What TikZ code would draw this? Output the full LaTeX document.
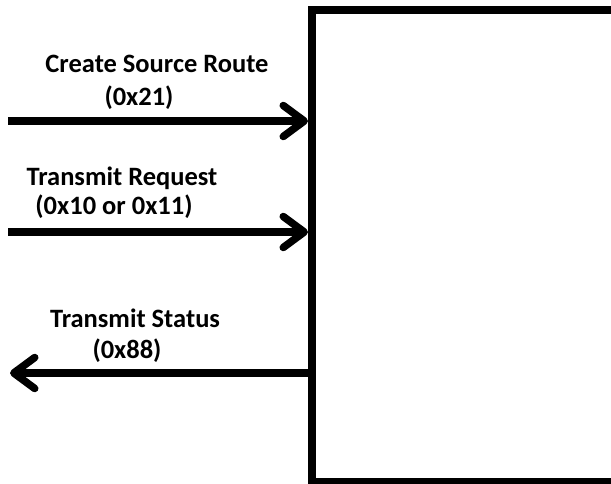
\documentclass[tikz,border=0pt]{standalone}
\usepackage{fontspec}
\setmainfont{Carlito}
\usetikzlibrary{arrows.meta}
\begin{document}
\begin{tikzpicture}[x=1pt,y=-1pt,
  lbl/.style={anchor=base,inner sep=0,font=\fontsize{26.5}{30}\selectfont\bfseries},
  flow/.style={line width=7.5pt,-{Straight Barb[length=21pt,width=31pt,round]}}]
\clip (0,0) rectangle (611,483);
\fill[white] (0,0) rectangle (611,483);
\node[draw,line width=8pt,minimum width=308pt,minimum height=472pt,inner sep=0,anchor=north west] (box) at (308,6) {};
\coordinate (a1) at (8,121);
\coordinate (a2) at (8,232);
\coordinate (a3) at (10,373);
\draw[flow] (a1) -- (a1 -| box.west);
\draw[flow] (a2) -- (a2 -| box.west);
\draw[flow] (a3 -| box.west) -- (a3);
\node[lbl] (t1) at (157,72) {Create Source Route};
\node[lbl] (t1b) at (139,105) {(0x21)};
\node[lbl] (t2) at (122,185) {Transmit Request};
\node[lbl] (t2b) at (114,214) {(0x10 or 0x11)};
\node[lbl] (t3) at (135,327) {Transmit Status};
\node[lbl] (t3b) at (127,358) {(0x88)};
\end{tikzpicture}
\end{document}
